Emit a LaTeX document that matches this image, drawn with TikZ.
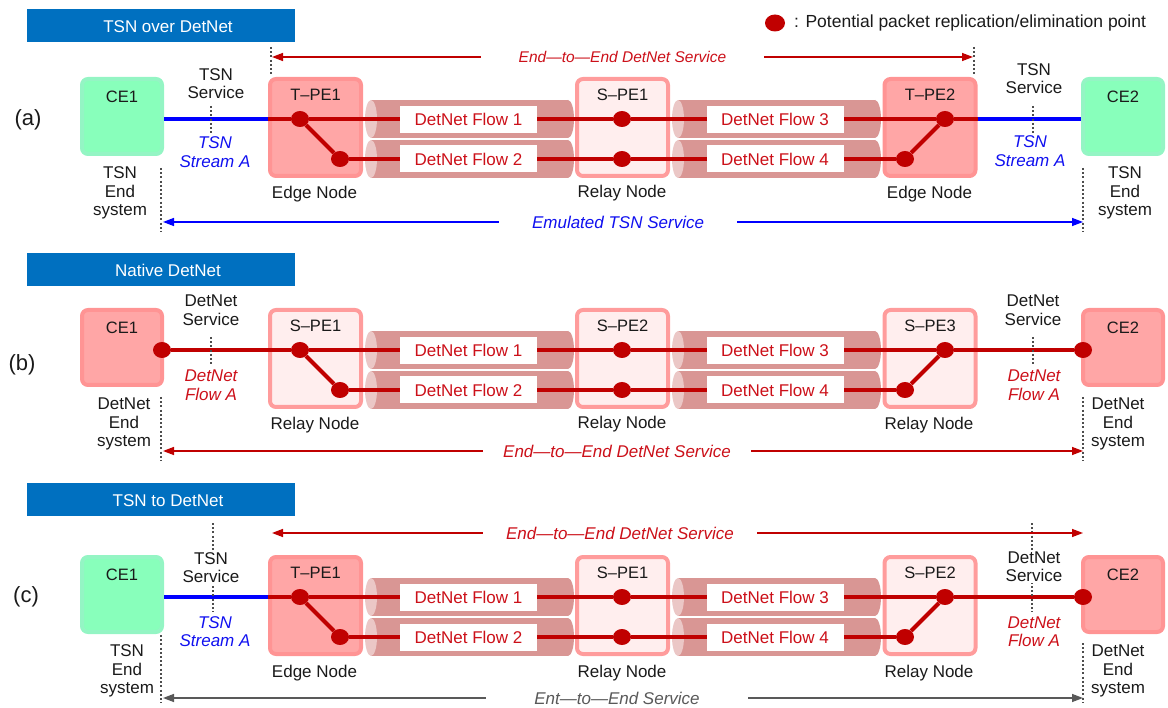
\documentclass[tikz,border=0pt]{standalone}
\usepackage{fontspec}
\setmainfont{Liberation Sans}
\usetikzlibrary{arrows.meta,shapes.geometric}

\definecolor{barblue}{HTML}{0070C0}
\definecolor{dnred}{HTML}{C00000}
\definecolor{txtred}{HTML}{CC1019}
\definecolor{tubebody}{HTML}{D99694}
\definecolor{tubeface}{HTML}{EBC7C6}
\definecolor{edgefill}{HTML}{FFA6A6}
\definecolor{edgering}{HTML}{FF9494}
\definecolor{relayfill}{HTML}{FFEEEE}
\definecolor{relayring}{HTML}{FF9C9C}
\definecolor{cefill}{HTML}{88FFBB}
\definecolor{cering}{HTML}{94F5C4}
\definecolor{tsnblue}{HTML}{0000FF}
\definecolor{txtblue}{HTML}{1010F0}
\definecolor{svcgray}{HTML}{595959}
\definecolor{dotgray}{HTML}{4D4D4D}
\definecolor{ink}{HTML}{1A1A1A}

\pgfdeclarelayer{bg}
\pgfdeclarelayer{mid}
\pgfsetlayers{bg,mid,main}

% horizontal pipe: left x, right x, centre y
\newcommand\tubeseg[3]{%
  \fill[tubebody] (#1+6,#3-19) rectangle (#2-6,#3+19);
  \fill[tubebody] (#2-6,#3) ellipse [x radius=6, y radius=19];
  \fill[tubeface] (#1+6,#3) ellipse [x radius=6, y radius=19];
}

% pipes, three provider nodes and the four DetNet flows of one row
% #1 vertical offset, #2 name suffix, #3/#4 left box style/label,
% #5 middle label, #6/#7 right box style/label
\newcommand\corerow[7]{%
  \begin{pgfonlayer}{bg}
    \tubeseg{365}{574}{119+#1}
    \tubeseg{365}{574}{159+#1}
    \tubeseg{672}{881}{119+#1}
    \tubeseg{672}{881}{159+#1}
    \node[#3, label={[boxlbl]north:#4}] (L#2) at (315.5,127.5+#1) {};
    \node[relaybox, label={[boxlbl]north:#5}] (M#2) at (622.5,127.5+#1) {};
    \node[#6, label={[boxlbl]north:#7}] (R#2) at (930,127.5+#1) {};
  \end{pgfonlayer}
  \node[ppoint] (L1#2) at (300,119+#1) {};
  \node[ppoint] (L2#2) at (340,159+#1) {};
  \node[ppoint] (M1#2) at (622,119+#1) {};
  \node[ppoint] (M2#2) at (622,159+#1) {};
  \node[ppoint] (R1#2) at (945,119+#1) {};
  \node[ppoint] (R2#2) at (905,159+#1) {};
  \node[flowlbl] (F1#2) at (468.5,119.5+#1) {DetNet Flow 1};
  \node[flowlbl] (F2#2) at (468.5,159+#1) {DetNet Flow 2};
  \node[flowlbl] (F3#2) at (775,119.5+#1) {DetNet Flow 3};
  \node[flowlbl] (F4#2) at (775,159+#1) {DetNet Flow 4};
  \begin{pgfonlayer}{mid}
    \draw[redline] (L1#2) -- (M1#2) -- (R1#2);
    \draw[redline] (L2#2) -- (M2#2) -- (R2#2);
    \draw[redline] (L1#2) -- (L2#2);
    \draw[redline] (R1#2) -- (R2#2);
  \end{pgfonlayer}
}

\tikzset{
  txt/.style={font=\fontsize{17}{18.5}\selectfont, text=ink, align=center, inner sep=0pt},
  itxt/.style={txt, font=\fontsize{17}{18.5}\selectfont\itshape},
  boxlbl/.style={font=\fontsize{16.5}{18}\selectfont, text=ink, inner sep=0pt, anchor=north, yshift=-11.5pt},
  celbl/.style={font=\fontsize{16.5}{18}\selectfont, text=ink, inner sep=0pt, anchor=north, yshift=-13.5pt},
  nodebox/.style={rounded corners=6pt, line width=4pt, minimum width=91pt, minimum height=97pt, inner sep=0pt},
  edgebox/.style={nodebox, fill=edgefill, draw=edgering},
  relaybox/.style={nodebox, fill=relayfill, draw=relayring},
  cebox/.style={rounded corners=6pt, line width=4pt, minimum width=80pt, minimum height=75pt, inner sep=0pt},
  tsnce/.style={cebox, fill=cefill, draw=cering},
  dnce/.style={cebox, fill=edgefill, draw=edgering},
  ppoint/.style={ellipse, fill=dnred, minimum width=18pt, minimum height=16pt, inner sep=0pt},
  flowlbl/.style={fill=white, minimum width=137pt, minimum height=27pt, inner sep=0pt, text=txtred, font=\fontsize{17}{18}\selectfont},
  redline/.style={draw=dnred, line width=4pt},
  blueline/.style={draw=tsnblue, line width=4pt},
  dotline/.style={draw=dotgray, line width=2.6pt, dash pattern=on 2pt off 2.2pt},
  svcarrow/.style={line width=1.4pt, {Triangle[length=11pt,width=8pt]}-{Triangle[length=11pt,width=8pt]}},
  arrlbl/.style={fill=white, inner ysep=2pt, font=\fontsize{17}{18}\selectfont\itshape},
  bar/.style={fill=barblue, minimum width=268pt, minimum height=33pt, inner sep=0pt},
  bartxt/.style={text=white, inner sep=0pt, font=\fontsize{17}{18}\selectfont},
  tag/.style={font=\fontsize{22}{24}\selectfont, text=ink, inner sep=0pt},
  lowlbl/.style={font=\fontsize{17}{18}\selectfont, text=ink, inner sep=0pt, anchor=base},
}

\begin{document}
\begin{tikzpicture}[x=1pt, y=-1pt]
\useasboundingbox (0,0) rectangle (1168,708);

% ---------- legend ----------
\node[ppoint, minimum width=20pt, minimum height=17pt] (legdot) at (775,23) {};
\node[txt, anchor=base west, font=\fontsize{17.5}{19}\selectfont] (legtxt) at (794,28) {: Potential packet replication/elimination point};

% ================= (a) TSN over DetNet =================
\node[bar] (bara) at (161,25.5) {};
\node[bartxt] (bartxta) at (168,26.5) {TSN over DetNet};
\node[tag] (taga) at (28,120) {(a)};
\begin{pgfonlayer}{bg}
  \node[tsnce, label={[celbl]north:CE1}] (ce1a) at (122,116.5) {};
  \node[tsnce, label={[celbl]north:CE2}] (ce2a) at (1123,116.5) {};
\end{pgfonlayer}
\corerow{0}{a}{edgebox}{T–PE1}{S–PE1}{edgebox}{T–PE2}
\begin{pgfonlayer}{mid}
  \draw[blueline] (ce1a.east |- L1a) -- (La.west |- L1a);
  \draw[redline] (La.west |- L1a) -- (L1a);
  \draw[redline] (R1a) -- (Ra.east |- R1a);
  \draw[blueline] (Ra.east |- R1a) -- (ce2a.west |- R1a);
\end{pgfonlayer}
\node[txt] (svcLa) at (216,83.5) {TSN\\Service};
\node[txt] (svcRa) at (1034,78.5) {TSN\\Service};
\node[itxt, text=txtblue] (strLa) at (215,152) {TSN\\Stream A};
\node[itxt, text=txtblue] (strRa) at (1030,151) {TSN\\Stream A};
\node[txt] (endLa) at (120,193) {TSN\\End\\system};
\node[txt] (endRa) at (1125,193) {TSN\\End\\system};
\node[lowlbl] (roleLa) at (314.5,199) {Edge Node};
\node[lowlbl] (roleMa) at (622,198) {Relay Node};
\node[lowlbl] (roleRa) at (929.5,199) {Edge Node};
\coordinate (sa1) at (211,106); \coordinate (sa2) at (211,134);
\coordinate (sa3) at (1033,106); \coordinate (sa4) at (1033,133);
\coordinate (ea1) at (161,168); \coordinate (ea2) at (161,232);
\coordinate (ea3) at (1083,168); \coordinate (ea4) at (1083,232);
\coordinate (ta1) at (271,47); \coordinate (ta2) at (271,75);
\coordinate (ta3) at (974,47); \coordinate (ta4) at (974,75);
\draw[dotline] (sa1) -- (sa2);
\draw[dotline] (sa3) -- (sa4);
\draw[dotline] (ea1) -- (ea2);
\draw[dotline] (ea3) -- (ea4);
\draw[dotline] (ta1) -- (ta2);
\draw[dotline] (ta3) -- (ta4);
\coordinate (aTopL) at (272,57); \coordinate (aTopR) at (973,57);
\draw[svcarrow, draw=dnred] (aTopL) -- node[arrlbl, text=txtred, inner xsep=38pt, font=\fontsize{15.5}{16}\selectfont\itshape] (aTopT) {End—to—End DetNet Service} (aTopR);
\coordinate (aBotL) at (163,222); \coordinate (aBotR) at (1083,222);
\draw[svcarrow, draw=tsnblue] (aBotL) -- node[arrlbl, text=txtblue, inner xsep=33pt, pos=0.4946] (aBotT) {Emulated TSN Service} (aBotR);

% ================= (b) Native DetNet =================
\node[bar] (barb) at (161,269.5) {};
\node[bartxt] (bartxtb) at (168,270.5) {Native DetNet};
\node[tag] (tagb) at (22,365) {(b)};
\begin{pgfonlayer}{bg}
  \node[dnce, label={[celbl]north:CE1}] (ce1b) at (122,347.5) {};
  \node[dnce, label={[celbl]north:CE2}] (ce2b) at (1123,347.5) {};
\end{pgfonlayer}
\corerow{231}{b}{relaybox}{S–PE1}{S–PE2}{relaybox}{S–PE3}
\node[ppoint] (c1b) at (162,350) {};
\node[ppoint] (c2b) at (1083,350) {};
\begin{pgfonlayer}{mid}
  \draw[redline] (c1b) -- (L1b);
  \draw[redline] (R1b) -- (c2b);
\end{pgfonlayer}
\node[txt] (svcLb) at (211,310) {DetNet\\Service};
\node[txt] (svcRb) at (1033,310) {DetNet\\Service};
\node[itxt, text=txtred] (flwLb) at (211,385) {DetNet\\Flow A};
\node[itxt, text=txtred] (flwRb) at (1034,385) {DetNet\\Flow A};
\node[txt] (endLb) at (124,424) {DetNet\\End\\system};
\node[txt] (endRb) at (1118,424) {DetNet\\End\\system};
\node[lowlbl] (roleLb) at (315,430) {Relay Node};
\node[lowlbl] (roleMb) at (622,429) {Relay Node};
\node[lowlbl] (roleRb) at (929,430) {Relay Node};
\coordinate (sb1) at (211,337); \coordinate (sb2) at (211,364);
\coordinate (sb3) at (1033,337); \coordinate (sb4) at (1033,364);
\coordinate (eb1) at (161,397); \coordinate (eb2) at (161,461);
\coordinate (eb3) at (1083,397); \coordinate (eb4) at (1083,461);
\draw[dotline] (sb1) -- (sb2);
\draw[dotline] (sb3) -- (sb4);
\draw[dotline] (eb1) -- (eb2);
\draw[dotline] (eb3) -- (eb4);
\coordinate (bBotL) at (163,451); \coordinate (bBotR) at (1083,451);
\draw[svcarrow, draw=dnred] (bBotL) -- node[arrlbl, text=txtred, inner xsep=20pt, pos=0.4935] (bBotT) {End—to—End DetNet Service} (bBotR);

% ================= (c) TSN to DetNet =================
\node[bar] (barc) at (161,499.5) {};
\node[bartxt] (bartxtc) at (168,500.5) {TSN to DetNet};
\node[tag] (tagc) at (26,597) {(c)};
\begin{pgfonlayer}{bg}
  \node[tsnce, label={[celbl]north:CE1}] (ce1c) at (122,594.5) {};
  \node[dnce, label={[celbl]north:CE2}] (ce2c) at (1123,594.5) {};
\end{pgfonlayer}
\corerow{478}{c}{edgebox}{T–PE1}{S–PE1}{relaybox}{S–PE2}
\node[ppoint] (c2c) at (1083,597) {};
\begin{pgfonlayer}{mid}
  \draw[blueline] (ce1c.east |- L1c) -- (Lc.west |- L1c);
  \draw[redline] (Lc.west |- L1c) -- (L1c);
  \draw[redline] (R1c) -- (c2c);
\end{pgfonlayer}
\coordinate (sc1) at (213,523); \coordinate (sc2) at (213,612);
\coordinate (sc3) at (1032,523); \coordinate (sc4) at (1032,612);
\coordinate (ec1) at (161,635); \coordinate (ec2) at (161,703);
\coordinate (ec3) at (1083,643); \coordinate (ec4) at (1083,703);
\draw[dotline] (sc1) -- (sc2);
\draw[dotline] (sc3) -- (sc4);
\draw[dotline] (ec1) -- (ec2);
\draw[dotline] (ec3) -- (ec4);
\node[txt, fill=white, inner sep=1pt] (svcLc) at (211,567.5) {TSN\\Service};
\node[txt, fill=white, inner sep=1pt] (svcRc) at (1034,566.5) {DetNet\\Service};
\node[itxt, text=txtblue] (strLc) at (215,631.5) {TSN\\Stream A};
\node[itxt, text=txtred] (flwRc) at (1034,631.5) {DetNet\\Flow A};
\node[txt] (endLc) at (127,671) {TSN\\End\\system};
\node[txt] (endRc) at (1118,671) {DetNet\\End\\system};
\node[lowlbl] (roleLc) at (314.5,677) {Edge Node};
\node[lowlbl] (roleMc) at (622,677) {Relay Node};
\node[lowlbl] (roleRc) at (929,677) {Relay Node};
\coordinate (cTopL) at (272,533); \coordinate (cTopR) at (1083,533);
\draw[svcarrow, draw=dnred] (cTopL) -- node[arrlbl, text=txtred, inner xsep=23pt, pos=0.429] (cTopT) {End—to—End DetNet Service} (cTopR);
\coordinate (cBotL) at (163,698); \coordinate (cBotR) at (1083,698);
\draw[svcarrow, draw=svcgray] (cBotL) -- node[arrlbl, text=svcgray, inner xsep=48pt, pos=0.4935] (cBotT) {Ent—to—End Service} (cBotR);

\end{tikzpicture}
\end{document}
